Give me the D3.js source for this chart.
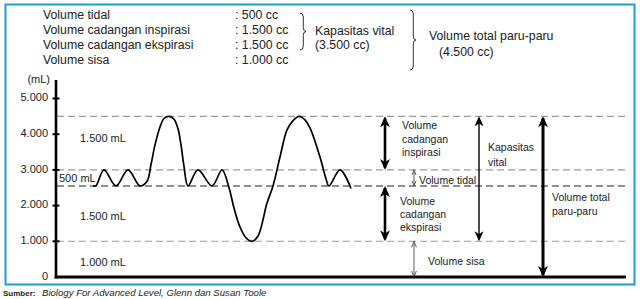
<!DOCTYPE html>
<html><head><meta charset="utf-8">
<script src="https://cdn.jsdelivr.net/npm/d3@7"></script>
<style>body{margin:0;background:#fff} text{font-family:"Liberation Sans",Arial,sans-serif;fill:#222}</style>
</head><body><svg id="c" width="640" height="299"></svg>
<script>
// ---- data ----
const summaryNames = ["Volume tidal","Volume cadangan inspirasi","Volume cadangan ekspirasi","Volume sisa"];
const summaryValues = [": 500 cc",": 1.500 cc",": 1.500 cc",": 1.000 cc"];
const vitalLabel = ["Kapasitas vital","(3.500 cc)"];
const totalLabel = ["Volume total paru-paru","(4.500 cc)"];
const yTickValues = [0,1000,2000,3000,4000,5000];
const yTickLabels = ["0","1.000","2.000","3.000","4.000","5.000"];
const levelValues = [4500,3000,2550,1000];
const levelDark = [false,false,true,false];
// time in arbitrary units (0..570), volume in mL
const breathTime   = [37, 40, 48, 60, 72, 84, 91, 95, 99, 104, 108, 113, 118, 122, 125, 128, 132, 142, 156, 166, 173, 178, 184, 190, 196, 202, 211, 217, 224, 231, 237, 243, 249, 254, 264, 270, 273, 284, 295];
const breathVolume = [2550,2560,3000,2550,3000,2550,2680,3150,3700,4200,4440,4500,4420,4150,3700,3100,2550,3000,2550,3000,2500,1930,1400,1100,1000,1150,2070,2550,3360,4120,4380,4500,4400,4180,3360,2750,2550,3000,2480];
const regionLabels = ["1.500 mL","500 mL","1.500 mL","1.000 mL"];
const regionAt = [3890,2775,1710,420];
const sourceBold = "Sumber:";
const sourceText = "Biology For Advanced Level, Glenn dan Susan Toole";

// ---- layout ----
const svg = d3.select("#c");
const x = d3.scaleLinear().domain([0,570]).range([56,626]);
const y = d3.scaleLinear().domain([0,5000]).range([277,98.5]);

// frame
svg.append("rect").attr("x",5.5).attr("y",4.5).attr("width",629).attr("height",280)
  .attr("fill","none").attr("stroke","#1c9fd6").attr("stroke-width",2);

// summary block
const topFs = 12.3;
summaryNames.forEach((n,i)=>{
  const cy = 15 + i*14.8;
  svg.append("text").attr("x",43).attr("y",cy).attr("dy","0.35em").style("font-size",topFs+"px").text(n);
  svg.append("text").attr("x",235).attr("y",cy).attr("dy","0.35em").style("font-size",topFs+"px").text(summaryValues[i]);
});
function brace(x0,y1,y2,w){
  const ym=(y1+y2)/2, xm=x0+w*0.55, r=4;
  return `M${x0},${y1} Q${xm},${y1} ${xm},${y1+r} L${xm},${ym-r} Q${xm},${ym} ${x0+w},${ym} Q${xm},${ym} ${xm},${ym+r} L${xm},${y2-r} Q${xm},${y2} ${x0},${y2}`;
}
svg.append("path").attr("d",brace(300,13,50,6)).attr("fill","none").attr("stroke","#333").attr("stroke-width",1);
svg.append("path").attr("d",brace(410,10,70,6)).attr("fill","none").attr("stroke","#333").attr("stroke-width",1);
svg.append("text").attr("x",315).attr("y",31).attr("dy","0.35em").style("font-size",topFs+"px").text(vitalLabel[0]);
svg.append("text").attr("x",315).attr("y",45).attr("dy","0.35em").style("font-size",topFs+"px").text(vitalLabel[1]);
svg.append("text").attr("x",429).attr("y",36).attr("dy","0.35em").style("font-size",topFs+"px").text(totalLabel[0]);
svg.append("text").attr("x",439).attr("y",52).attr("dy","0.35em").style("font-size",topFs+"px").text(totalLabel[1]);

// level lines
levelValues.forEach((v,i)=>{
  svg.append("line").attr("x1",57).attr("x2",627).attr("y1",y(v)).attr("y2",y(v))
    .attr("stroke",levelDark[i]?"#222":"#9a9a9a").attr("stroke-width",1.1)
    .attr("stroke-dasharray","7,4");
});

// axes
svg.append("line").attr("x1",56).attr("x2",56).attr("y1",y(0)+1.5).attr("y2",80)
  .attr("stroke","#000").attr("stroke-width",2.6);
svg.append("line").attr("x1",54.7).attr("x2",x(570)).attr("y1",y(0)).attr("y2",y(0))
  .attr("stroke","#000").attr("stroke-width",3);
yTickValues.forEach((v,i)=>{
  if(v>0) svg.append("line").attr("x1",52.5).attr("x2",59.5).attr("y1",y(v)).attr("y2",y(v))
    .attr("stroke","#000").attr("stroke-width",2);
  svg.append("text").attr("x",48).attr("y",y(v)-1).attr("dy","0.35em").attr("text-anchor","end")
    .style("font-size","11px").text(yTickLabels[i]);
});
svg.append("text").attr("x",50).attr("y",79).attr("dy","0.35em").attr("text-anchor","end")
  .style("font-size","11px").text("(mL)");

// region labels
regionLabels.forEach((t,i)=>{
  svg.append("text").attr("x",i===1?59:80).attr("y",y(regionAt[i])).attr("dy","0.35em")
    .style("font-size","11px").text(t);
});

// breathing curve
const pts = breathTime.map((t,i)=>[t,breathVolume[i]]);
svg.append("path").attr("d",d3.line().x(d=>x(d[0])).y(d=>y(d[1])).curve(d3.curveCatmullRom.alpha(0.5))(pts))
  .attr("fill","none").attr("stroke","#000").attr("stroke-width",1.7);

// annotation arrows
function arrow(ax,v1,v2,w,head,filled,color){
  const ya=y(v1), yb=y(v2);
  svg.append("line").attr("x1",ax).attr("x2",ax).attr("y1",ya+2).attr("y2",yb-2)
    .attr("stroke",color).attr("stroke-width",w);
  [[ya,1],[yb,-1]].forEach(([yt,s])=>{
    if(filled){
      svg.append("path").attr("d",`M${ax},${yt} L${ax-head*0.45},${yt+s*head} L${ax},${yt+s*head*0.72} L${ax+head*0.45},${yt+s*head} Z`)
        .attr("fill",color);
    } else {
      svg.append("path").attr("d",`M${ax-head*0.4},${yt+s*head} L${ax},${yt} L${ax+head*0.4},${yt+s*head}`)
        .attr("fill","none").attr("stroke",color).attr("stroke-width",0.8);
    }
  });
}
arrow(385,4500,3000,2.6,11,true,"#000");
arrow(385,2550,1000,2.6,11,true,"#000");
arrow(414,3000,2550,0.8,5,false,"#333");
arrow(414,1000,0,0.8,6,false,"#333");
arrow(479,4500,1000,1.4,10,true,"#000");
arrow(543,4500,0,3,11,true,"#000");

const annFs = "10.5px";
function multi(tx,cys,lines){
  lines.forEach((l,i)=>svg.append("text").attr("x",tx).attr("y",cys[i]).attr("dy","0.35em").style("font-size",annFs).text(l));
}
multi(402,[125,139,152],["Volume","cadangan","inspirasi"]);
multi(419,[180],["Volume tidal"]);
multi(400,[201,214,227],["Volume","cadangan","ekspirasi"]);
multi(428,[261],["Volume sisa"]);
multi(488,[147,162],["Kapasitas","vital"]);
multi(552,[197,211],["Volume total","paru-paru"]);

// source
svg.append("text").attr("x",3).attr("y",293).attr("dy","0.35em").style("font-size","8px").style("font-weight","bold").text(sourceBold);
svg.append("text").attr("x",42).attr("y",293).attr("dy","0.35em").style("font-size","9.6px").style("font-style","italic").text(sourceText);
</script></body></html>
